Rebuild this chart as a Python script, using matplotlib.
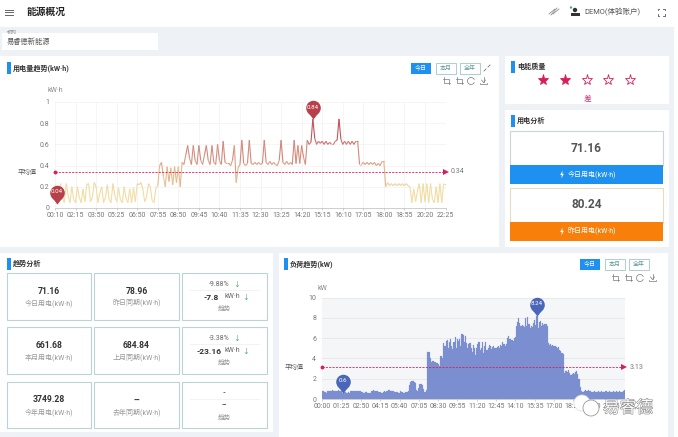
import matplotlib
matplotlib.use('Agg')
import matplotlib.pyplot as plt
import numpy as np
from matplotlib.collections import LineCollection
from matplotlib.colors import LinearSegmentedColormap
from matplotlib.patches import Rectangle, Circle, Polygon, Arc
from matplotlib.path import Path
import matplotlib.patheffects as pe

plt.rcParams['font.family'] = ['Roboto', 'Noto Sans CJK SC', 'DejaVu Sans']

# Data
energy_ticks = ['00:10', '02:15', '03:50', '05:25', '06:50', '07:55', '08:50', '09:45', '10:40', '11:35',
                '12:30', '13:25', '14:20', '15:15', '16:10', '17:05', '18:00', '18:55', '20:20', '22:25']
# one row per tick interval
energy_values = [
    .22, .04, .15, .23, .10, .05, .23, .12, .05, .20, .08,
    .05, .20, .10, .05, .18, .06, .22, .23, .06, .10, .24,
    .20, .05, .14, .20, .05, .10, .22, .08, .05, .23, .12,
    .06, .19, .08, .05, .20, .09, .05, .18, .05, .19, .06,
    .23, .22, .24, .18, .06, .10, .23, .20, .07, .05, .19,
    .21, .40, .43, .30, .20, .39, .25, .38, .22, .39, .24,
    .39, .20, .43, .41, .50, .59, .47, .41, .59, .45, .41,
    .59, .45, .41, .50, .59, .45, .41, .59, .43, .41, .60,
    .45, .41, .63, .43, .42, .42, .40, .45, .59, .24, .38,
    .41, .64, .42, .40, .42, .64, .42, .41, .43, .41, .43,
    .41, .42, .64, .43, .41, .44, .41, .43, .41, .40, .45,
    .64, .43, .41, .44, .41, .43, .41, .64, .42, .59, .42,
    .59, .48, .41, .64, .60, .62, .84, .66, .60, .63, .61,
    .63, .60, .63, .60, .62, .60, .60, .63, .64, .84, .65,
    .60, .63, .60, .63, .60, .63, .60, .63, .63, .41, .41,
    .43, .41, .43, .41, .43, .41, .43, .40, .42, .40, .44,
    .44, .20, .24, .21, .23, .21, .23, .21, .23, .21, .23,
    .21, .23, .21, .20, .05, .18, .06, .16, .23, .05, .23,
    .06, .23, .05, .23, .08, .05, .20, .05, .23, .05, .23,
    .23]
energy_avg = 0.34
energy_yticks = [0, 0.2, 0.4, 0.6, 0.8, 1]

load_ticks = ['00:00', '01:25', '02:50', '04:15', '05:40', '07:05', '08:30', '09:55', '11:20',
              '12:45', '14:10', '15:35', '17:00', '18:25', '19:50', '21:15']
load_values = [
    .8, .8, .7, .7, .6, .8, .8, .8, .8, .9, .8, .8, .8, .8, .9, .8, .8,
    .8, .6, .7, .7, .6, .6, .7, .6, .8, .8, .8, .8, .8, .8, .8, .8, .8,
    .8, .7, .6, .6, .7, .7, .6, .6, .6, .8, .8, .9, .8, .8, .8, .8, .7,
    .7, .6, .6, .7, .8, .7, .8, .9, .9, .8, .8, .8, .8, .7, .7, .7, .6,
    .6, .8, .7, .7, .6, .7, .7, .7, .8, 1.4, 1.7, 1.8, 1.8, 1.7, 1.6, .9, .8,
    1.1, 1.5, 1.5, 1.4, 1.0, .7, .7, .9, 4.6, 4.6, 4.0, 3.7, 3.8, 3.8, 3.7, 3.7, 3.6,
    3.5, 3.3, 4.2, 4.2, 4.0, 5.5, 5.2, 5.7, 5.8, 5.0, 5.6, 5.9, 5.2, 4.9, 5.6, 6.1, 5.0,
    5.9, 5.7, 5.9, 5.2, 6.4, 6.3, 5.6, 6.2, 5.5, 5.0, 5.4, 5.5, 5.0, 4.6, 5.3, 5.0, 4.3,
    5.0, 5.4, 5.6, 4.8, 5.0, 5.6, 4.5, 5.2, 5.6, 4.8, 5.0, 5.3, 5.2, 4.9, 5.1, 5.2, 5.0,
    5.0, 5.1, 5.2, 5.0, 5.3, 5.2, 5.6, 5.4, 5.2, 5.4, 6.0, 6.2, 5.9, 5.9, 5.8, 5.7, 6.0,
    6.1, 7.2, 7.6, 8.0, 7.5, 7.2, 7.3, 7.2, 7.1, 8.0, 7.2, 8.1, 7.4, 7.0, 7.2, 7.1, 7.5,
    7.8, 7.3, 8.24, 7.0, 7.6, 7.7, 7.2, 7.5, 7.3, 7.4, 7.4, 7.2, 5.5, 5.3, 5.4, 5.2, 5.3,
    5.2, 5.2, 5.1, 5.0, 5.1, 4.8, 4.7, 4.5, 4.4, 2.6, 2.8, 2.8, 2.7, 2.9, 2.6, 2.4, 2.5,
    2.6, 2.5, 2.7, 2.8, 2.5, 2.0, 1.2, .8, .7, .7, .8, .9, .8, .9, .8, .8, .7,
    .7, .7, .8, .7, .7, .8, .7, .7, .8, .7, .7, .8, .8, .7, .7, .8, .7,
    .7, .8, .7, .7, .8, .7, .7, .8, .7, .7, .8, .9]
load_avg = 3.13
load_yticks = [0, 2, 4, 6, 8, 10]

trend_cards = [
    ('71.16', '今日用电(kW·h)', '78.96', '昨日同期(kW·h)', '-9.88%', '-7.8'),
    ('661.68', '本月用电(kW·h)', '684.84', '上月同期(kW·h)', '-3.38%', '-23.16'),
    ('3749.28', '今年用电(kW·h)', '--', '去年同期(kW·h)', '--', '--'),
]
today_use = '71.16'
yesterday_use = '80.24'

W, H = 678, 437
BLUE = '#1e90f0'
ORANGE = '#f77f0a'
CRIMSON = '#d81e5a'
DARK = '#333333'
BORDER = '#bcd3d6'

fig = plt.figure(figsize=(W / 100, H / 100), dpi=100, facecolor='white')

# background layer and foreground layer both use screen pixels
bg = fig.add_axes([0, 0, 1, 1], zorder=0)
bg.set_xlim(0, W)
bg.set_ylim(H, 0)
bg.axis('off')
fg = fig.add_axes([0, 0, 1, 1], zorder=5)
fg.set_xlim(0, W)
fg.set_ylim(H, 0)
fg.axis('off')
fg.patch.set_alpha(0)


def box(ax, x0, y0, x1, y1, fc='white', ec='none', lw=0.8):
    ax.add_patch(Rectangle((x0, y0), x1 - x0, y1 - y0, fc=fc, ec=ec, lw=lw))


def header(x, y, text):
    box(bg, x, y - 6, x + 3.5, y + 6, fc=BLUE)
    bg.text(x + 6, y, text, fontsize=5.1, fontweight='bold', color=DARK, va='center', ha='left')


def buttons(x, y):
    for i, label in enumerate(['今日', '本月', '全年']):
        x0 = x + i * 24.5
        if i == 0:
            box(bg, x0, y, x0 + 20, y + 11, fc=BLUE)
            bg.text(x0 + 10, y + 5.5, label, fontsize=4.3, color='white', ha='center', va='center')
        else:
            box(bg, x0, y, x0 + 20, y + 11, ec='#9fc7c7', lw=0.6)
            bg.text(x0 + 10, y + 5.5, label, fontsize=4.3, color='#5d9a9a', ha='center', va='center')


def toolbox(x, y):
    # crop, crop back, refresh, download icons
    c = '#777777'
    for dx in [0, 12.5]:
        bg.plot([x + dx - 3, x + dx + 3, x + dx + 3], [y - 2, y - 2, y + 3], color=c, lw=0.5)
        bg.plot([x + dx - 2, x + dx - 2, x + dx + 4], [y - 4, y + 2, y + 2], color=c, lw=0.5)
    bg.add_patch(Arc((x + 25, y), 7, 7, theta1=20, theta2=340, color=c, lw=0.5))
    bg.plot([x + 37.5, x + 37.5], [y - 4, y + 1], color=c, lw=0.5)
    bg.plot([x + 35.5, x + 37.5, x + 39.5], [y - 1, y + 1.5, y - 1], color=c, lw=0.5)
    bg.plot([x + 34, x + 34, x + 41, x + 41], [y + 1.5, y + 3, y + 3, y + 1.5], color=c, lw=0.5)


def bolt(x, y, c='white'):
    bg.add_patch(Polygon([(x + 0.6, y - 4), (x - 1.8, y + 0.5), (x - 0.2, y + 0.5),
                          (x - 0.6, y + 4), (x + 1.8, y - 0.7), (x + 0.2, y - 0.7)], fc=c, ec='none'))


# page
box(bg, 0, 0, W, H, fc='white')
box(bg, 0, 27, 674, 437, fc='#eef1f5')
box(bg, 2, 33, 158, 50)
box(bg, 0, 56, 499, 247)
box(bg, 505, 56, 669, 104)
box(bg, 505, 110, 669, 247)
box(bg, 0, 253, 273, 432)
box(bg, 279, 253, 668, 437)

# top bar
for yy in [9.5, 12, 14.5]:
    bg.plot([5, 13], [yy, yy], color='#666666', lw=0.7)
bg.text(27, 12, '能源概况', fontsize=7, fontweight='bold', color='#222222', va='center')
bg.text(7, 32.5, '机构', fontsize=3.6, color='#888888', va='center')
bg.text(7, 42, '易睿德新能源', fontsize=5.2, color='#555555', va='center')

# top right icons
for k in [-2, 0, 2]:
    bg.plot([551 + k, 557 + k], [15 - abs(k) * 0.5, 8 + abs(k) * 0.5], color='#777777', lw=0.5)
bg.add_patch(Circle((575, 10), 2.2, fc='#333333', ec='none'))
box(bg, 570.5, 13, 579.5, 15.5, fc='#333333')
bg.add_patch(Circle((571, 7.5), 1.2, fc='#3cb371', ec='none'))
bg.text(584, 12, 'DEMO(体验账户)', fontsize=5.4, color='#555555', va='center')
for sx, sy in [(-1, -1), (1, -1), (-1, 1), (1, 1)]:
    cx, cy = 661 + sx * 3.5, 12 + sy * 3.5
    bg.plot([cx - sx * 1.8, cx, cx], [cy, cy, cy - sy * 1.8], color='#555555', lw=0.6)

# panel headers and controls
header(7, 68, '用电量趋势(kW·h)')
header(511, 67, '电能质量')
header(511, 121, '用电分析')
header(7, 264, '趋势分析')
header(284, 264, '负荷趋势(kW)')
buttons(411, 63)
buttons(580, 259)
toolbox(446, 81)
toolbox(615, 278)
for sx, sy in [(-1, 1), (1, -1)]:
    bg.plot([487 + sx * 3, 487 + sx * 1], [68 + sy * 3, 68 + sy * 1], color='#777777', lw=0.6)

# stars
for i, sx in enumerate([543, 565, 587, 608, 630]):
    filled = i < 2
    bg.plot(sx, 80, marker='*', ms=8, mfc=CRIMSON if filled else 'white', mec=CRIMSON, mew=0.6)
bg.text(587, 98, '差', fontsize=5.5, color='#c2347a', ha='center', va='center')

# power analysis cards
for y0, value, fill, label in [(131, today_use, BLUE, '今日用电(kW·h)'),
                               (188, yesterday_use, ORANGE, '昨日用电(kW·h)')]:
    box(bg, 510, y0, 663, y0 + 35, ec='#c9d6d6' if fill == BLUE else '#e4dcc4')
    box(bg, 510, y0 + 34, 663, y0 + 53, fc=fill)
    bg.text(586.5, y0 + 17, value, fontsize=8.6, fontweight='bold', color='#555555', ha='center', va='center')
    bg.text(592, y0 + 43.5, label, fontsize=5, color='white', ha='center', va='center')
    bolt(562, y0 + 43.5)

# trend cards
col_x = [(6.7, 90.7), (94, 179), (182, 267)]
row_y = [(273, 320), (327, 374), (382, 428)]
for (y0, y1), (v1, l1, v2, l2, pct, diff) in zip(row_y, trend_cards):
    for (x0, x1), v, l in [(col_x[0], v1, l1), (col_x[1], v2, l2)]:
        box(bg, x0, y0, x1, y1, ec=BORDER)
        bg.text((x0 + x1) / 2, y0 + 18, v, fontsize=6.2, fontweight='bold', color=DARK, ha='center', va='center')
        bg.text((x0 + x1) / 2, y0 + 30, l, fontsize=5, color='#9a9a9a', ha='center', va='center')
    x0, x1 = col_x[2]
    mid = (x0 + x1) / 2
    box(bg, x0, y0, x1, y1, ec=BORDER)
    bg.plot([x0 + 8, x1 - 8], [y0 + 17, y0 + 17], color='#eeeeee', lw=0.5)
    if pct != '--':
        bg.text(mid - 5, y0 + 12, pct, fontsize=5, color='#666666', ha='center', va='center')
        bg.text(mid + 12, y0 + 12, '↓', fontsize=4.8, color='#3a9a60', ha='center', va='center')
        bg.text(mid - 9 - len(diff), y0 + 24, diff, fontsize=6, fontweight='bold', color=DARK, ha='center', va='center')
        bg.text(mid + 8, y0 + 24, 'kW·h', fontsize=5, color='#666666', ha='center', va='center')
        bg.text(mid + 21, y0 + 25, '↓', fontsize=4.8, color='#3a9a60', ha='center', va='center')
    else:
        bg.text(mid, y0 + 12, pct, fontsize=5, color='#666666', ha='center', va='center')
        bg.text(mid, y0 + 23, diff, fontsize=5, fontweight='bold', color='#555555', ha='center', va='center')
    bg.text(mid, y0 + 36, '趋势', fontsize=4.8, color='#9a9a9a', ha='center', va='center')


def px_axes(x0, y0, x1, y1):
    return fig.add_axes([x0 / W, 1 - y1 / H, (x1 - x0) / W, (y1 - y0) / H], zorder=2)


def style_axes(ax, ticks, tick_labels, yticks, ylabels):
    ax.set_xticks(ticks)
    ax.set_xticklabels(tick_labels)
    ax.set_yticks(yticks)
    ax.set_yticklabels(ylabels)
    ax.tick_params(axis='x', labelsize=5, labelcolor='#777777', length=1.5, width=0.4, color='#aaaaaa', pad=1.5)
    ax.tick_params(axis='y', labelsize=5, labelcolor='#777777', length=0, pad=4)
    for s in ['top', 'right', 'left']:
        ax.spines[s].set_visible(False)
    ax.spines['bottom'].set_color('#bbbbbb')
    ax.spines['bottom'].set_linewidth(0.5)


def pin(ax, x, y, text, color):
    # tip at the data point, round head above it
    head = Path.unit_circle()
    tail = Path([(0, 0), (0.62, 0.8), (-0.62, 0.8), (0, 0)], closed=True)
    body = Path.make_compound_path(Path(head.vertices * 0.78 + [0, 1.22], head.codes), tail)
    ax.plot([x], [y], marker=body, ms=27, color=color, mew=0, clip_on=False, zorder=6)
    ax.annotate(text, (x, y), xytext=(0, 8.6), textcoords='offset points', fontsize=4.4,
                color='white', ha='center', va='center', zorder=7, annotation_clip=False)


def avg_line(ax, xmax, avg, label):
    ax.plot([0, xmax], [avg, avg], color=CRIMSON, lw=0.6, ls=(0, (2.5, 1.5)), zorder=5, clip_on=False)
    ax.plot([0], [avg], marker='o', ms=2.8, color=CRIMSON, mew=0, clip_on=False, zorder=5)
    ax.plot([xmax], [avg], marker='>', ms=4.5, color=CRIMSON, mew=0, clip_on=False, zorder=5)
    ax.annotate('平均值', (0, avg), xytext=(-13.5, 0), textcoords='offset points', fontsize=4.6,
                color='#555555', ha='right', va='center', annotation_clip=False)
    ax.annotate(label, (xmax, avg), xytext=(4, 0), textcoords='offset points', fontsize=5,
                color='#777777', ha='left', va='center', annotation_clip=False)


# energy line chart
ax1 = px_axes(55, 102, 445.5, 208)
ax1.patch.set_alpha(0)
xs = np.arange(len(energy_values))
ys = np.array(energy_values)
cmap = LinearSegmentedColormap.from_list('energy', [(0, '#f2e2a6'), (0.24, '#f0d9a0'), (0.4, '#e0b28c'),
                                                    (0.7, '#cf7c76'), (1, '#b53a48')])
segments = np.stack([np.column_stack([xs[:-1], ys[:-1]]), np.column_stack([xs[1:], ys[1:]])], axis=1)
lc = LineCollection(segments, array=(ys[:-1] + ys[1:]) / 2, cmap=cmap, norm=plt.Normalize(0, 0.84), lw=0.8)
ax1.add_collection(lc)
ax1.set_xlim(0, len(energy_values) - 1)
ax1.set_ylim(0, 1)
style_axes(ax1, xs[::11], energy_ticks, energy_yticks, ['0', '0.2', '0.4', '0.6', '0.8', '1'])
ax1.grid(True, color='#f1f1f1', lw=0.5)
ax1.set_axisbelow(True)
avg_line(ax1, len(energy_values) - 1, energy_avg, '0.34')
pin(ax1, int(np.argmax(ys)), max(energy_values), '0.84', '#b8404a')
pin(ax1, int(np.argmin(ys)), min(energy_values), '0.04', '#b8404a')
bg.text(55.5, 91, 'kW·h', fontsize=5, color='#888888', ha='center', va='center')

# load bar chart
ax2 = px_axes(321.7, 297.7, 625, 399)
ax2.set_facecolor('#f5f6f7')
xb = np.arange(len(load_values))
ax2.bar(xb, load_values, width=1.0, color='#7b8fd0', edgecolor='#7b8fd0', linewidth=0.15, zorder=2)
ax2.set_xlim(-0.5, len(load_values) - 0.5)
ax2.set_ylim(0, 10)
style_axes(ax2, xb[::17], load_ticks, load_yticks, [str(v) for v in load_yticks])
ax2.grid(True, axis='y', color='#e4e4e4', lw=0.5, zorder=1)
ax2.set_axisbelow(True)
avg_line(ax2, len(load_values) - 1, load_avg, '3.13')
pin(ax2, int(np.argmax(load_values)), max(load_values), '8.24', '#4a66b8')
pin(ax2, 18, 0.6, '0.6', '#4a66b8')
bg.text(322, 288, 'kW', fontsize=5, color='#888888', ha='center', va='center')

# watermark
fg.add_patch(Circle((582, 403), 8, fc='white', ec='#dddddd', lw=0.5))
fg.add_patch(Circle((591, 408), 8, fc='white', ec='#999999', lw=0.6))
wm = fg.text(603, 408, '易睿德', fontsize=12, color='white', ha='left', va='center')
wm.set_path_effects([pe.Stroke(linewidth=0.8, foreground='#8a8a8a'), pe.Normal()])

fig.savefig('out.png', dpi=100)
